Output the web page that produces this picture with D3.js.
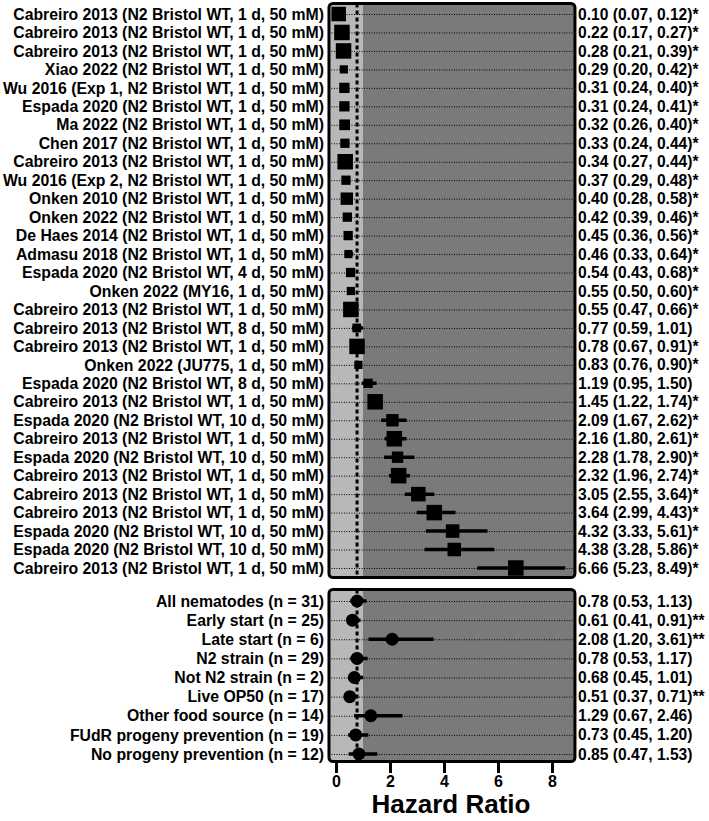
<!DOCTYPE html>
<html>
<head>
<meta charset="utf-8">
<script src="https://cdn.jsdelivr.net/npm/d3@7"></script>
<style>
  body { margin: 0; background: #fff; }
  svg text { font-family: "Liberation Sans", Arial, sans-serif; font-weight: bold; fill: #000; }
</style>
</head>
<body>
<div id="forest"></div>
<script>
// study level estimates
const studies = [
  "Cabreiro 2013 (N2 Bristol WT, 1 d, 50 mM)",
  "Cabreiro 2013 (N2 Bristol WT, 1 d, 50 mM)",
  "Cabreiro 2013 (N2 Bristol WT, 1 d, 50 mM)",
  "Xiao 2022 (N2 Bristol WT, 1 d, 50 mM)",
  "Wu 2016 (Exp 1, N2 Bristol WT, 1 d, 50 mM)",
  "Espada 2020 (N2 Bristol WT, 1 d, 50 mM)",
  "Ma 2022 (N2 Bristol WT, 1 d, 50 mM)",
  "Chen 2017 (N2 Bristol WT, 1 d, 50 mM)",
  "Cabreiro 2013 (N2 Bristol WT, 1 d, 50 mM)",
  "Wu 2016 (Exp 2, N2 Bristol WT, 1 d, 50 mM)",
  "Onken 2010 (N2 Bristol WT, 1 d, 50 mM)",
  "Onken 2022 (N2 Bristol WT, 1 d, 50 mM)",
  "De Haes 2014 (N2 Bristol WT, 1 d, 50 mM)",
  "Admasu 2018 (N2 Bristol WT, 1 d, 50 mM)",
  "Espada 2020 (N2 Bristol WT, 4 d, 50 mM)",
  "Onken 2022 (MY16, 1 d, 50 mM)",
  "Cabreiro 2013 (N2 Bristol WT, 1 d, 50 mM)",
  "Cabreiro 2013 (N2 Bristol WT, 8 d, 50 mM)",
  "Cabreiro 2013 (N2 Bristol WT, 1 d, 50 mM)",
  "Onken 2022 (JU775, 1 d, 50 mM)",
  "Espada 2020 (N2 Bristol WT, 8 d, 50 mM)",
  "Cabreiro 2013 (N2 Bristol WT, 1 d, 50 mM)",
  "Espada 2020 (N2 Bristol WT, 10 d, 50 mM)",
  "Cabreiro 2013 (N2 Bristol WT, 1 d, 50 mM)",
  "Espada 2020 (N2 Bristol WT, 10 d, 50 mM)",
  "Cabreiro 2013 (N2 Bristol WT, 1 d, 50 mM)",
  "Cabreiro 2013 (N2 Bristol WT, 1 d, 50 mM)",
  "Cabreiro 2013 (N2 Bristol WT, 1 d, 50 mM)",
  "Espada 2020 (N2 Bristol WT, 10 d, 50 mM)",
  "Espada 2020 (N2 Bristol WT, 10 d, 50 mM)",
  "Cabreiro 2013 (N2 Bristol WT, 1 d, 50 mM)"
];
const hr    = [0.10,0.22,0.28,0.29,0.31,0.31,0.32,0.33,0.34,0.37,0.40,0.42,0.45,0.46,0.54,0.55,0.55,0.77,0.78,0.83,1.19,1.45,2.09,2.16,2.28,2.32,3.05,3.64,4.32,4.38,6.66];
const lower = [0.07,0.17,0.21,0.20,0.24,0.24,0.26,0.24,0.27,0.29,0.28,0.39,0.36,0.33,0.43,0.50,0.47,0.59,0.67,0.76,0.95,1.22,1.67,1.80,1.78,1.96,2.55,2.99,3.33,3.28,5.23];
const upper = [0.12,0.27,0.39,0.42,0.40,0.41,0.40,0.44,0.44,0.48,0.58,0.46,0.56,0.64,0.68,0.60,0.66,1.01,0.91,0.90,1.50,1.74,2.62,2.61,2.90,2.74,3.64,4.43,5.61,5.86,8.49];
const sig   = ["*","*","*","*","*","*","*","*","*","*","*","*","*","*","*","*","*","","*","*","","*","*","*","*","*","*","*","*","*","*"];
// relative study weights
const weights = [4.4,5.0,5.0,1.4,2.2,2.2,2.4,1.8,5.0,1.8,3.2,1.8,1.8,1.4,1.8,1.4,5.0,1.6,5.0,1.4,1.8,5.0,3.2,5.0,2.7,5.0,4.4,5.0,3.8,3.8,5.0];

// pooled / subgroup estimates
const groups = [
  "All nematodes (n = 31)",
  "Early start (n = 25)",
  "Late start (n = 6)",
  "N2 strain (n = 29)",
  "Not N2 strain (n = 2)",
  "Live OP50 (n = 17)",
  "Other food source (n = 14)",
  "FUdR progeny prevention (n = 19)",
  "No progeny prevention (n = 12)"
];
const groupHr    = [0.78,0.61,2.08,0.78,0.68,0.51,1.29,0.73,0.85];
const groupLower = [0.53,0.41,1.20,0.53,0.45,0.37,0.67,0.45,0.47];
const groupUpper = [1.13,0.91,3.61,1.17,1.01,0.71,2.46,1.20,1.53];
const groupSig   = ["","**","**","","","**","","",""];

const xTicks = [0, 2, 4, 6, 8];
const pooled = 0.78;

const W = 709, H = 821;
const svg = d3.select("#forest").append("svg").attr("width", W).attr("height", H);

const x = d3.scaleLinear().domain([0, 8]).range([336, 552]);
const xMin = -0.26, xMax = 8.85;

const panels = [
  { top: 3.5, bottom: 577.5, rows: d3.range(studies.length), y: d3.scalePoint().domain(d3.range(studies.length)).range([14, 568]) },
  { top: 589.5, bottom: 761.5, rows: d3.range(groups.length), y: d3.scalePoint().domain(d3.range(groups.length)).range([601, 754]) }
];

const fmt = d3.format(".2f");
const size = d3.scaleSqrt().domain([0, d3.max(weights)]).range([0, 15.5]);

panels.forEach(function(p, k) {
  const g = svg.append("g");
  const clipId = "clip" + k;
  g.append("clipPath").attr("id", clipId)
    .append("rect")
    .attr("x", x(xMin)).attr("y", p.top)
    .attr("width", x(xMax) - x(xMin)).attr("height", p.bottom - p.top)
    .attr("rx", 4);

  const inner = g.append("g").attr("clip-path", "url(#" + clipId + ")");
  inner.append("rect")
    .attr("x", x(xMin)).attr("y", p.top)
    .attr("width", x(1) - x(xMin)).attr("height", p.bottom - p.top)
    .attr("fill", "#b8b8b8");
  inner.append("rect")
    .attr("x", x(1)).attr("y", p.top)
    .attr("width", x(xMax) - x(1)).attr("height", p.bottom - p.top)
    .attr("fill", "#7a7a7a");

  // dotted row guides
  inner.selectAll("line.row")
    .data(p.rows)
    .enter()
    .append("line")
    .attr("class", "row")
    .attr("x1", x(xMin)).attr("x2", x(xMax))
    .attr("y1", function(d) { return p.y(d) + 0.5; })
    .attr("y2", function(d) { return p.y(d) + 0.5; })
    .attr("stroke", "#000")
    .attr("stroke-width", 1)
    .attr("stroke-dasharray", "1,1.5");

  // pooled reference line
  inner.append("line")
    .attr("x1", x(pooled)).attr("x2", x(pooled))
    .attr("y1", p.top).attr("y2", p.bottom)
    .attr("stroke", "#000")
    .attr("stroke-width", 3)
    .attr("stroke-dasharray", "4,3");

  const lo = k === 0 ? lower : groupLower;
  const hi = k === 0 ? upper : groupUpper;
  const est = k === 0 ? hr : groupHr;

  inner.selectAll("line.ci")
    .data(p.rows)
    .enter()
    .append("line")
    .attr("class", "ci")
    .attr("x1", function(d) { return x(lo[d]); })
    .attr("x2", function(d) { return x(hi[d]); })
    .attr("y1", function(d) { return p.y(d); })
    .attr("y2", function(d) { return p.y(d); })
    .attr("stroke", "#000")
    .attr("stroke-width", 3.5);

  if (k === 0) {
    inner.selectAll("rect.pt")
      .data(p.rows)
      .enter()
      .append("rect")
      .attr("class", "pt")
      .attr("x", function(d) { return x(est[d]) - size(weights[d]) / 2; })
      .attr("y", function(d) { return p.y(d) - size(weights[d]) / 2; })
      .attr("width", function(d) { return size(weights[d]); })
      .attr("height", function(d) { return size(weights[d]); })
      .attr("fill", "#000");
  } else {
    inner.selectAll("circle.pt")
      .data(p.rows)
      .enter()
      .append("circle")
      .attr("class", "pt")
      .attr("cx", function(d) { return x(est[d]); })
      .attr("cy", function(d) { return p.y(d); })
      .attr("r", 6.5)
      .attr("fill", "#000");
  }

  g.append("rect")
    .attr("x", x(xMin)).attr("y", p.top)
    .attr("width", x(xMax) - x(xMin)).attr("height", p.bottom - p.top)
    .attr("rx", 4)
    .attr("fill", "none")
    .attr("stroke", "#000")
    .attr("stroke-width", 3);

  // labels left and estimates right
  const names = k === 0 ? studies : groups;
  const stars = k === 0 ? sig : groupSig;
  g.selectAll("text.name")
    .data(p.rows)
    .enter()
    .append("text")
    .attr("class", "name")
    .attr("x", 324)
    .attr("y", function(d) { return p.y(d); })
    .attr("dy", "0.36em")
    .attr("text-anchor", "end")
    .style("font-size", "15.8px")
    .text(function(d) { return names[d]; });

  g.selectAll("text.val")
    .data(p.rows)
    .enter()
    .append("text")
    .attr("class", "val")
    .attr("x", 578)
    .attr("y", function(d) { return p.y(d); })
    .attr("dy", "0.36em")
    .style("font-size", "15.6px")
    .text(function(d) { return fmt(est[d]) + " (" + fmt(lo[d]) + ", " + fmt(hi[d]) + ")" + stars[d]; });
});

// x axis
const xAxis = d3.axisBottom(x).tickValues(xTicks).tickSize(10).tickPadding(3).tickFormat(d3.format("d"));
const ax = svg.append("g")
  .attr("transform", "translate(0,763)")
  .call(xAxis);
ax.select(".domain").remove();
ax.selectAll(".tick line").attr("stroke", "#000").attr("stroke-width", 3);
ax.selectAll(".tick text").style("font-size", "16px").attr("fill", "#000");

svg.append("text")
  .attr("x", 451)
  .attr("y", 813)
  .attr("text-anchor", "middle")
  .style("font-size", "26px")
  .text("Hazard Ratio");
</script>
</body>
</html>
